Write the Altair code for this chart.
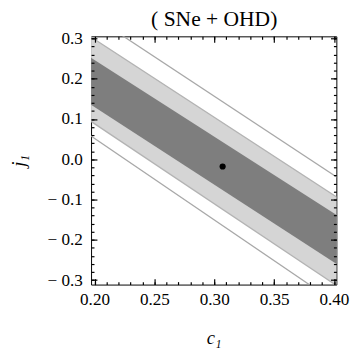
import altair as alt
import pandas as pd

# ---- data ----
c_ends = [0.19, 0.41]                 # c1 at the two ends of each straight boundary
sigma3_upper = [0.372, -0.059]
sigma2_upper = [0.317, -0.109]
sigma1_upper = [0.265, -0.153]
sigma1_lower = [0.149, -0.275]
sigma2_lower = [0.108, -0.329]
sigma3_lower = [0.072, -0.373]

best_fit_c = [0.307]
best_fit_j = [-0.018]

x_major = [0.2, 0.25, 0.3, 0.35, 0.4]
x_ticks = [0.2, 0.21, 0.22, 0.23, 0.24, 0.25, 0.26, 0.27, 0.28, 0.29, 0.3,
           0.31, 0.32, 0.33, 0.34, 0.35, 0.36, 0.37, 0.38, 0.39, 0.4]
y_major = [-0.3, -0.2, -0.1, 0.0, 0.1, 0.2, 0.3]
y_ticks = [-0.3, -0.28, -0.26, -0.24, -0.22, -0.2, -0.18, -0.16, -0.14, -0.12,
           -0.1, -0.08, -0.06, -0.04, -0.02, 0.0, 0.02, 0.04, 0.06, 0.08, 0.1,
           0.12, 0.14, 0.16, 0.18, 0.2, 0.22, 0.24, 0.26, 0.28, 0.3]

title_text = "( SNe + OHD)"
x_title = "c₁"
y_title = "j₁"

X_DOMAIN = [0.1971, 0.4020]
Y_DOMAIN = [-0.311, 0.305]

SERIF = "Liberation Serif"
LABEL_SIZE = 17.5

bands = pd.DataFrame({
    "c": c_ends,
    "s3u": sigma3_upper, "s2u": sigma2_upper, "s1u": sigma1_upper,
    "s1l": sigma1_lower, "s2l": sigma2_lower, "s3l": sigma3_lower,
})
point = pd.DataFrame({"c": best_fit_c, "j": best_fit_j})

xs = alt.Scale(domain=X_DOMAIN, nice=False, zero=False)
ys = alt.Scale(domain=Y_DOMAIN, nice=False, zero=False)


def major_axis(orient, values, show_labels, label_expr=None, **extra):
    kw = dict(orient=orient, values=values, offset=-6, tickSize=6,
              tickColor="black", tickWidth=1.2, domain=False, grid=False,
              labels=show_labels, labelFont=SERIF, labelFontSize=LABEL_SIZE,
              labelColor="black", labelOverlap=False, labelFlush=False, zindex=1)
    if label_expr:
        kw["labelExpr"] = label_expr
    kw.update(extra)
    if "title" not in kw:
        kw["title"] = None
    return alt.Axis(**kw)


def minor_axis(orient, values):
    return alt.Axis(orient=orient, values=values, offset=-3, tickSize=3,
                    tickColor="black", tickWidth=1.2, domain=False, grid=False,
                    labels=False, title=None, zindex=1)


x_lab = "format(datum.value, '.2f')"
y_lab = ("datum.value < 0 ? '\u2212 ' + format(-datum.value, '.1f') "
         ": format(datum.value, '.1f')")

title_font = dict(titleFont=SERIF, titleFontWeight="normal", titleColor="black")

base = alt.Chart(bands)

light = base.mark_area(clip=True, color="#d5d5d5").encode(
    x=alt.X("c:Q", scale=xs, axis=major_axis(
        "bottom", x_major, True, x_lab, labelPadding=6, title=x_title,
        titleFontSize=19, titleFontStyle="italic", titlePadding=22, **title_font)),
    y=alt.Y("s2l:Q", scale=ys, axis=major_axis(
        "left", y_major, True, y_lab, labelPadding=9, title=y_title,
        titleFontSize=19, titleFontStyle="italic", titlePadding=19, **title_font)),
    y2="s2u:Q",
)

dark = base.mark_area(clip=True, color="#7e7e7e").encode(
    x=alt.X("c:Q", scale=xs, axis=minor_axis("bottom", x_ticks)),
    y=alt.Y("s1l:Q", scale=ys, axis=minor_axis("left", y_ticks)),
    y2="s1u:Q",
)

lines = base.transform_fold(
    ["s3u", "s2u", "s2l", "s3l"], as_=["bound", "j"]
).mark_line(clip=True, strokeWidth=1.3).encode(
    x=alt.X("c:Q", scale=xs, axis=major_axis(
        "top", x_major, False, title=title_text, titleFontSize=22,
        titleFontStyle="normal", titleBaseline="alphabetic", titlePadding=10,
        **title_font)),
    y=alt.Y("j:Q", scale=ys, axis=major_axis("right", y_major, False)),
    detail="bound:N",
    color=alt.Color("bound:N", legend=None,
                    scale=alt.Scale(domain=["s3u", "s2u", "s2l", "s3l"],
                                    range=["#a8a8a8", "#b3b3b3", "#b3b3b3", "#a8a8a8"])),
)

dot = alt.Chart(point).mark_circle(size=40, color="black", opacity=1).encode(
    x=alt.X("c:Q", scale=xs, axis=minor_axis("top", x_ticks)),
    y=alt.Y("j:Q", scale=ys, axis=minor_axis("right", y_ticks)),
)

chart = alt.layer(light, dark, lines, dot).resolve_axis(
    x="independent", y="independent"
).properties(
    width=251, height=254,
    autosize=alt.AutoSizeParams(type="none"),
    padding={"left": 85, "top": 25, "right": 16, "bottom": 66},
).configure_view(stroke="black", strokeWidth=1)

chart.save("out.html", embed_options={"renderer": "svg", "actions": False})
